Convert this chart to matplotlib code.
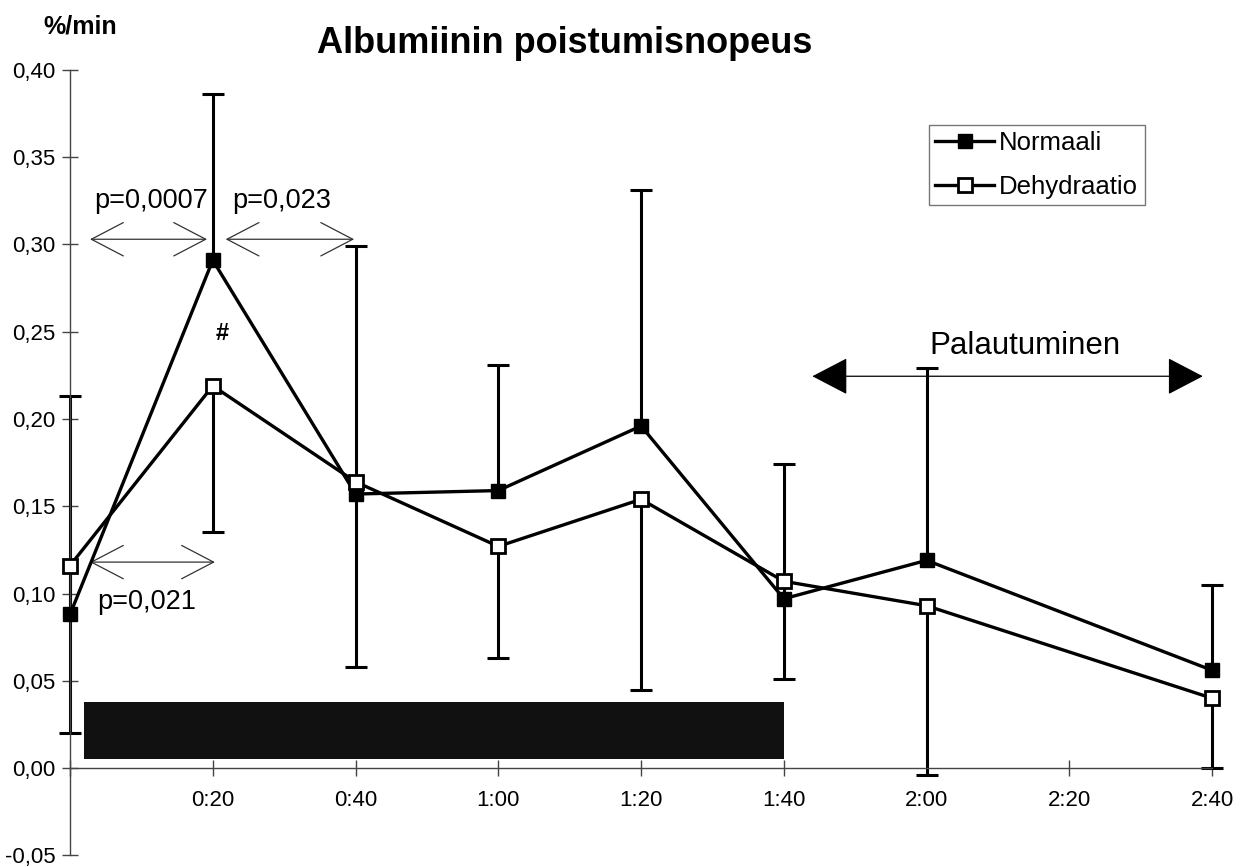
import matplotlib
matplotlib.use("Agg")
from matplotlib import pyplot as plt
import numpy as np

plt.rcParams['font.family'] = ['Liberation Sans', 'DejaVu Sans']

# time points (minutes) and series
times = [0, 20, 40, 60, 80, 100, 120, 160]
normaali = [0.088, 0.291, 0.157, 0.159, 0.196, 0.097, 0.119, 0.056]
normaali_err = [0.125, 0.095, 0.142, 0.072, 0.135, 0.077, 0.110, 0.049]   # upper only
dehydraatio = [0.116, 0.219, 0.164, 0.127, 0.154, 0.107, 0.093, 0.040]
dehydraatio_err = [0.096, 0.084, 0.106, 0.064, 0.109, 0.056, 0.097, 0.040]  # lower only

xticks = [0, 20, 40, 60, 80, 100, 120, 140, 160]
xticklabels = ['', '0:20', '0:40', '1:00', '1:20', '1:40', '2:00', '2:20', '2:40']
yticks = [-0.05, 0.0, 0.05, 0.10, 0.15, 0.20, 0.25, 0.30, 0.35, 0.40]

# exercise period bar (start, length) and its vertical extent
exercise = [(2, 98)]
exercise_y = (0.005, 0.033)

fig = plt.figure(figsize=(12.46, 8.67), dpi=100)
ax = fig.add_axes([0.0562, 0.0135, 0.9166, 0.9058])

ax.broken_barh(exercise, exercise_y, facecolor='#111111', edgecolor='none', zorder=1)

# one-sided error bars: Normaali upwards, Dehydraatio downwards
n_top = np.array(normaali) + np.array(normaali_err)
d_bot = np.array(dehydraatio) - np.array(dehydraatio_err)
ax.vlines(times, normaali, n_top, color='black', lw=2.2, zorder=2, clip_on=False)
ax.vlines(times, d_bot, dehydraatio, color='black', lw=2.2, zorder=2, clip_on=False)
ax.plot(times, n_top, ls='none', marker='_', ms=16, mew=2.2, color='black', zorder=2, clip_on=False)
ax.plot(times, d_bot, ls='none', marker='_', ms=16, mew=2.2, color='black', zorder=2, clip_on=False)

ax.plot(times, normaali, color='black', lw=2.4, marker='s', ms=10,
        mfc='black', mec='black', label='Normaali', zorder=4, clip_on=False)
ax.plot(times, dehydraatio, color='black', lw=2.4, marker='s', ms=10,
        mfc='white', mec='black', mew=2, label='Dehydraatio', zorder=5, clip_on=False)

ax.set_xlim(0, 160)
ax.set_ylim(-0.05, 0.40)

for s in ['top', 'right']:
    ax.spines[s].set_visible(False)
ax.spines['bottom'].set_position(('data', 0))
ax.spines['bottom'].set_color('#444444')
ax.spines['left'].set_color('#444444')
ax.spines['left'].set_linewidth(1)
ax.spines['bottom'].set_linewidth(1)

ax.set_xticks(xticks)
ax.set_xticklabels(xticklabels)
ax.set_yticks(yticks)
ax.set_yticklabels([('%.2f' % v).replace('.', ',') for v in yticks])
ax.tick_params(axis='x', direction='inout', length=11, width=1, color='#444444',
               pad=10, labelsize=16)
ax.tick_params(axis='y', direction='inout', length=11, width=1, color='#444444',
               pad=5, labelsize=16)

# significance arrows
thin = dict(arrowstyle='<->, head_length=1.15, head_width=0.6', mutation_scale=20,
            color='#333333', lw=0.9, shrinkA=0, shrinkB=0)
ax.annotate('', xy=(2.8, 0.303), xytext=(19.2, 0.303), arrowprops=thin)
ax.annotate('', xy=(21.8, 0.303), xytext=(39.8, 0.303), arrowprops=thin)
ax.annotate('', xy=(2.8, 0.118), xytext=(20.3, 0.118), arrowprops=thin)
ax.text(11.3, 0.325, 'p=0,0007', fontsize=19.5, ha='center', va='center')
ax.text(29.6, 0.325, 'p=0,023', fontsize=19.5, ha='center', va='center')
ax.text(10.7, 0.095, 'p=0,021', fontsize=19.5, ha='center', va='center')
ax.text(21.3, 0.249, '#', fontsize=17, fontweight='bold', ha='center', va='center')

# recovery arrow
filled = dict(arrowstyle='<|-|>, head_length=1.15, head_width=0.6', mutation_scale=20,
              color='black', lw=0.9, shrinkA=0, shrinkB=0)
ax.annotate('', xy=(104.0, 0.2245), xytext=(158.7, 0.2245), arrowprops=filled)
ax.text(133.8, 0.242, 'Palautuminen', fontsize=22.5, ha='center', va='center')

leg = ax.legend(loc='upper right', bbox_to_anchor=(0.941, 0.930), fontsize=18.5,
                frameon=True, fancybox=False, handlelength=2.3, handletextpad=0.2,
                borderpad=0.25, labelspacing=0.75, borderaxespad=0)
leg.get_frame().set_edgecolor('#555555')
leg.get_frame().set_linewidth(1)

fig.text(0.453, 0.950, 'Albumiinin poistumisnopeus', fontsize=26, fontweight='bold',
         ha='center', va='center')
fig.text(0.064, 0.969, '%/min', fontsize=18, fontweight='bold', ha='center', va='center')

fig.savefig('out.png', dpi=100)
